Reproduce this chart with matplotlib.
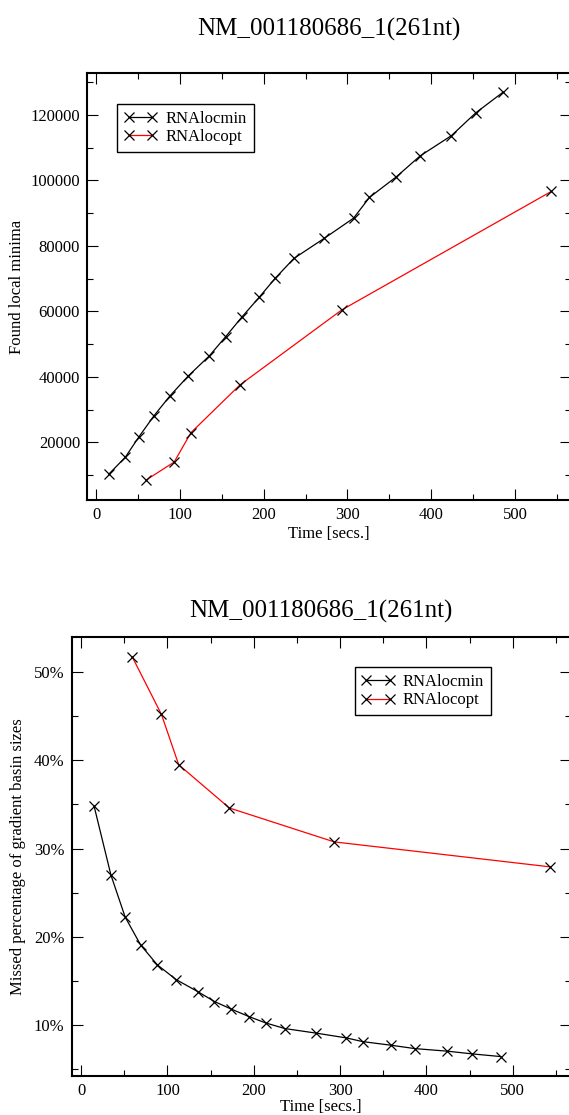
import matplotlib
matplotlib.use('Agg')
import matplotlib.pyplot as plt
from matplotlib.ticker import MultipleLocator, FuncFormatter

# serif font like the xmgrace output
plt.rcParams['font.family'] = ['Liberation Serif', 'DejaVu Serif']
plt.rcParams['font.size'] = 12

title_text = 'NM_001180686_1(261nt)'

# times of the runs (secs.)
locmin_time = [15, 34.5, 51, 69, 88.3, 110, 135, 154.5, 174, 194.6,
               213.7, 236, 272.5, 307.3, 326.3, 358.5, 386.7, 424.2, 453.2, 486]
locopt_time = [59.3, 93, 113, 171.7, 293.2, 543.6]

# found local minima
locmin_found = [10300, 15400, 21700, 28150, 34270, 40300, 46400, 52250, 58290, 64300,
                70100, 76150, 82330, 88450, 94790, 101100, 107440, 113660, 120600, 126950]
locopt_found = [8450, 13970, 22940, 37550, 60430, 96630]

# missed percentage of gradient basin sizes
locmin_missed = [34.8, 27.0, 22.24, 19.07, 16.83, 15.17, 13.81, 12.68, 11.82, 10.97,
                 10.26, 9.62, 9.1, 8.56, 8.14, 7.74, 7.35, 7.06, 6.75, 6.45]
locopt_missed = [51.69, 45.2, 39.5, 34.6, 30.76, 27.93]


def style_axes(ax):
    # ticks on all sides, pointing in
    for s in ax.spines.values():
        s.set_linewidth(1.5)
    ax.tick_params(which='both', direction='in', top=True, right=True, width=0.8, pad=5)
    ax.tick_params(which='major', length=8)
    ax.tick_params(which='minor', length=4)
    ax.xaxis.set_major_locator(MultipleLocator(100))
    ax.xaxis.set_minor_locator(MultipleLocator(50))


def draw_series(ax, y1, y2):
    ax.plot(locmin_time, y1, color='black', lw=0.9, marker='x', ms=6.5, mew=0.9,
            mec='black', label='RNAlocmin')
    ax.plot(locopt_time, y2, color='red', lw=0.9, marker='x', ms=6.5, mew=0.9,
            mec='black', label='RNAlocopt')


def make_legend(ax, x, y):
    leg = ax.legend(loc='upper left', bbox_to_anchor=(x, y), borderaxespad=0,
                    numpoints=2, fancybox=False, framealpha=1, edgecolor='black',
                    handlelength=2.0, handletextpad=0.5, labelspacing=0.15,
                    borderpad=0.4, fontsize=12)
    leg.get_frame().set_linewidth(1.0)


fig = plt.figure(figsize=(5.69, 11.15), dpi=100)

# top panel
ax1 = fig.add_axes([87 / 569, 0.5516, 484 / 569, 0.3827])
draw_series(ax1, locmin_found, locopt_found)
style_axes(ax1)
ax1.set_xlim(-11.1, 567)
ax1.set_ylim(2400, 132700)
ax1.yaxis.set_major_locator(MultipleLocator(20000))
ax1.yaxis.set_minor_locator(MultipleLocator(10000))
ax1.set_title(title_text, fontsize=18, pad=27)
ax1.set_xlabel('Time [secs.]', labelpad=2)
ax1.set_ylabel('Found local minima', labelpad=4)
make_legend(ax1, 0.0626, 0.928)

# bottom panel
ax2 = fig.add_axes([71.5 / 569, 0.035, 499.5 / 569, 0.394])
draw_series(ax2, locmin_missed, locopt_missed)
style_axes(ax2)
ax2.set_xlim(-11.2, 567.6)
ax2.set_ylim(4.25, 54)
ax2.yaxis.set_major_locator(MultipleLocator(10))
ax2.yaxis.set_minor_locator(MultipleLocator(5))
ax2.yaxis.set_major_formatter(FuncFormatter(lambda v, p: '%d%%' % round(v)))
ax2.set_title(title_text, fontsize=18, pad=14)
ax2.set_xlabel('Time [secs.]', labelpad=0)
ax2.set_ylabel('Missed percentage of gradient basin sizes', labelpad=6)
make_legend(ax2, 0.5666, 0.9304)

plt.savefig('out.png', dpi=100)
